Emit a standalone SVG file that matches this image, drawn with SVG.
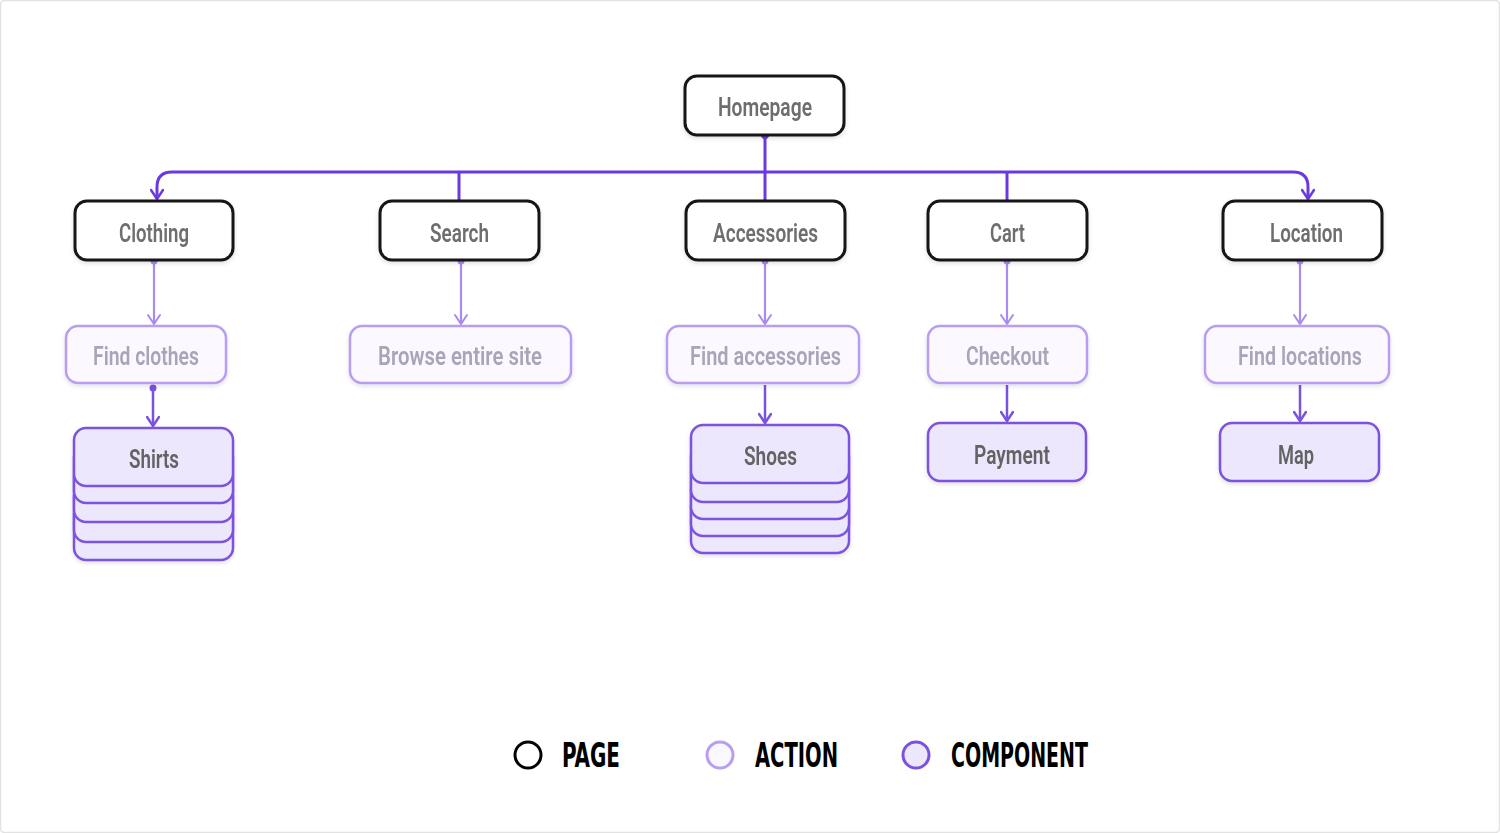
<svg xmlns="http://www.w3.org/2000/svg" width="1500" height="833" viewBox="0 0 1500 833">
<defs>
<filter id="sh" x="-10%" y="-20%" width="120%" height="150%"><feDropShadow dx="0" dy="2" stdDeviation="2" flood-color="#000" flood-opacity="0.12"/></filter>
<marker id="ahD" viewBox="0 0 14 14" refX="12" refY="7" markerWidth="14" markerHeight="14" markerUnits="userSpaceOnUse" orient="auto"><path d="M3,1 L12,7 L3,13" fill="none" stroke="#6a3ae0" stroke-width="2.5" stroke-linecap="round" stroke-linejoin="round"/></marker>
<marker id="ahL" viewBox="0 0 14 14" refX="12" refY="7" markerWidth="14" markerHeight="14" markerUnits="userSpaceOnUse" orient="auto"><path d="M3,1 L12,7 L3,13" fill="none" stroke="#a98af0" stroke-width="2" stroke-linecap="round" stroke-linejoin="round"/></marker>
<marker id="ahM" viewBox="0 0 14 14" refX="12" refY="7" markerWidth="14" markerHeight="14" markerUnits="userSpaceOnUse" orient="auto"><path d="M3,1 L12,7 L3,13" fill="none" stroke="#7b52e0" stroke-width="2.5" stroke-linecap="round" stroke-linejoin="round"/></marker>
</defs>
<style>
text{font-family:Roboto,"DejaVu Sans Condensed",sans-serif;font-weight:600;text-anchor:middle;dominant-baseline:central;font-size:25px}
.page rect{fill:#fff;stroke:#151515;stroke-width:3}
.page text{fill:#6e6e6e}
.action rect{fill:#fbf9ff;stroke:#b89df1;stroke-width:2.5}
.action text{fill:#aaa4b8}
.comp rect{fill:#ede7fd;stroke:#7b52e0;stroke-width:2.5}
.comp text{fill:#636363}
.bus{fill:none;stroke:#6a3ae0;stroke-width:3}
.lt{fill:none;stroke:#a98af0;stroke-width:2.2}
.md{fill:none;stroke:#7b52e0;stroke-width:2.5}
.leg{font-size:33px;font-weight:bold;fill:#000;text-anchor:start;font-family:"DejaVu Sans Condensed","DejaVu Sans",sans-serif}
</style>
<rect x="0.5" y="0.5" width="1499" height="832" rx="4" fill="#fff" stroke="#e2e2e2" stroke-width="1.5"/>

<g id="connectors">
<path class="bus" d="M765,135 V201"/>
<path class="bus" d="M765,172 H172 Q157,172 157,187 V199" marker-end="url(#ahD)"/>
<path class="bus" d="M765,172 H1293 Q1308,172 1308,187 V199" marker-end="url(#ahD)"/>
<path class="bus" d="M459,172 V201"/>
<path class="bus" d="M1007,172 V201"/>
<circle cx="765" cy="135" r="4" fill="#6a3ae0"/>
<path class="lt" d="M154,261 V324" marker-end="url(#ahL)"/>
<path class="lt" d="M461,261 V324" marker-end="url(#ahL)"/>
<path class="lt" d="M765,261 V324" marker-end="url(#ahL)"/>
<path class="lt" d="M1007,261 V324" marker-end="url(#ahL)"/>
<path class="lt" d="M1300,261 V324" marker-end="url(#ahL)"/>
<circle cx="154" cy="261" r="3.5" fill="#a98af0"/>
<circle cx="461" cy="261" r="3.5" fill="#a98af0"/>
<circle cx="765" cy="261" r="3.5" fill="#a98af0"/>
<circle cx="1007" cy="261" r="3.5" fill="#a98af0"/>
<circle cx="1300" cy="261" r="3.5" fill="#a98af0"/>
<path class="md" d="M153,388 V426" marker-end="url(#ahM)"/>
<path class="md" d="M765,385 V423" marker-end="url(#ahM)"/>
<path class="md" d="M1007,385 V421" marker-end="url(#ahM)"/>
<path class="md" d="M1300,385 V421" marker-end="url(#ahM)"/>
<circle cx="153" cy="388" r="3.5" fill="#7b52e0"/>
</g>

<g id="homepage" class="page" filter="url(#sh)"><rect x="685" y="76" width="159" height="59" rx="12"/><text x="765" y="107" textLength="94" lengthAdjust="spacingAndGlyphs">Homepage</text></g>
<g id="clothing" class="page" filter="url(#sh)"><rect x="75" y="201" width="158" height="59" rx="12"/><text x="154" y="233" textLength="70" lengthAdjust="spacingAndGlyphs">Clothing</text></g>
<g id="search" class="page" filter="url(#sh)"><rect x="380" y="201" width="159" height="59" rx="12"/><text x="459.5" y="233" textLength="59" lengthAdjust="spacingAndGlyphs">Search</text></g>
<g id="accessories" class="page" filter="url(#sh)"><rect x="686" y="201" width="159" height="59" rx="12"/><text x="765.5" y="233" textLength="105" lengthAdjust="spacingAndGlyphs">Accessories</text></g>
<g id="cart" class="page" filter="url(#sh)"><rect x="928" y="201" width="159" height="59" rx="12"/><text x="1007.5" y="233" textLength="35" lengthAdjust="spacingAndGlyphs">Cart</text></g>
<g id="location" class="page" filter="url(#sh)"><rect x="1223" y="201" width="159" height="59" rx="12"/><text x="1306.5" y="233" textLength="73" lengthAdjust="spacingAndGlyphs">Location</text></g>

<g id="find-clothes" class="action" filter="url(#sh)"><rect x="66" y="326" width="160" height="57" rx="12"/><text x="146" y="356" textLength="106" lengthAdjust="spacingAndGlyphs">Find clothes</text></g>
<g id="browse" class="action" filter="url(#sh)"><rect x="350" y="326" width="221" height="57" rx="12"/><text x="460" y="356" textLength="164" lengthAdjust="spacingAndGlyphs">Browse entire site</text></g>
<g id="find-accessories" class="action" filter="url(#sh)"><rect x="667" y="326" width="192" height="57" rx="12"/><text x="765.5" y="356" textLength="151" lengthAdjust="spacingAndGlyphs">Find accessories</text></g>
<g id="checkout" class="action" filter="url(#sh)"><rect x="928" y="326" width="159" height="57" rx="12"/><text x="1007.5" y="356" textLength="83" lengthAdjust="spacingAndGlyphs">Checkout</text></g>
<g id="find-locations" class="action" filter="url(#sh)"><rect x="1205" y="326" width="184" height="57" rx="12"/><text x="1300" y="356" textLength="124" lengthAdjust="spacingAndGlyphs">Find locations</text></g>

<g id="shirts" class="comp" filter="url(#sh)">
<rect x="74" y="502" width="159" height="58" rx="12"/>
<rect x="74" y="484" width="159" height="58" rx="12"/>
<rect x="74" y="464" width="159" height="58" rx="12"/>
<rect x="74" y="445" width="159" height="58" rx="12"/>
<rect x="74" y="428" width="159" height="58" rx="12"/>
<text x="154" y="459" textLength="50" lengthAdjust="spacingAndGlyphs">Shirts</text>
</g>
<g id="shoes" class="comp" filter="url(#sh)">
<rect x="691" y="495" width="158" height="58" rx="12"/>
<rect x="691" y="478" width="158" height="58" rx="12"/>
<rect x="691" y="461" width="158" height="58" rx="12"/>
<rect x="691" y="444" width="158" height="58" rx="12"/>
<rect x="691" y="425" width="158" height="58" rx="12"/>
<text x="770.5" y="456" textLength="53" lengthAdjust="spacingAndGlyphs">Shoes</text>
</g>
<g id="payment" class="comp" filter="url(#sh)"><rect x="928" y="423" width="158" height="58" rx="12"/><text x="1012" y="455" textLength="76" lengthAdjust="spacingAndGlyphs">Payment</text></g>
<g id="map" class="comp" filter="url(#sh)"><rect x="1220" y="423" width="159" height="58" rx="12"/><text x="1296" y="455" textLength="36" lengthAdjust="spacingAndGlyphs">Map</text></g>

<g id="legend">
<circle cx="528" cy="755" r="13" fill="#fff" stroke="#000" stroke-width="3"/>
<text class="leg" x="562" y="755" textLength="58" lengthAdjust="spacingAndGlyphs">PAGE</text>
<circle cx="720" cy="755" r="13" fill="#faf8ff" stroke="#b89df1" stroke-width="3"/>
<text class="leg" x="755" y="755" textLength="83" lengthAdjust="spacingAndGlyphs">ACTION</text>
<circle cx="916" cy="755" r="13" fill="#ede7fd" stroke="#7b52e0" stroke-width="3"/>
<text class="leg" x="951" y="755" textLength="137" lengthAdjust="spacingAndGlyphs">COMPONENT</text>
</g>
</svg>
